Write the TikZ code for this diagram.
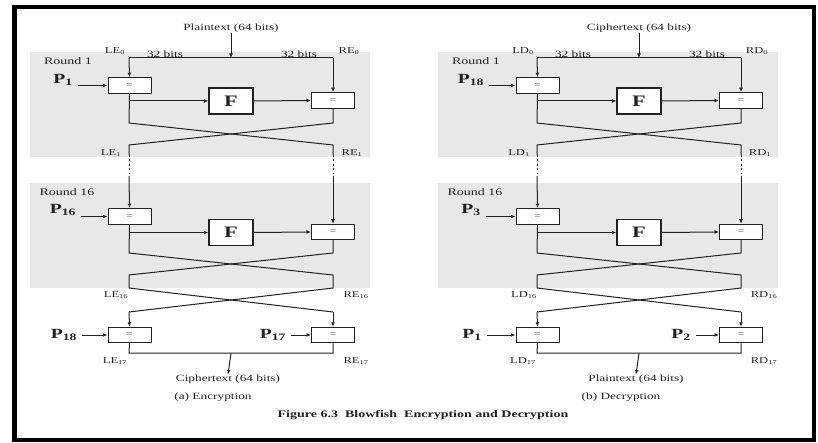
\documentclass[tikz,border=0pt]{standalone}
\usepackage{fontspec}
\setmainfont{Liberation Serif}[FakeStretch=1.4]
\usetikzlibrary{arrows.meta}

\definecolor{roundgray}{HTML}{E8E8E8}
\definecolor{ink}{HTML}{222222}

\tikzset{
  wire/.style={draw=ink, line width=1pt},
  flow/.style={wire, -{Latex[length=4.5pt,width=3.8pt]}},
  dots/.style={wire, dash pattern=on 1.8pt off 2.6pt},
  xorbox/.style={draw=ink, line width=1pt, fill=white, minimum width=43pt,
    minimum height=15.5pt, inner sep=0pt, font=\fontsize{8}{8}\selectfont, text=ink},
  fnbox/.style={draw=ink, line width=1.1pt, fill=white, minimum width=44pt,
    minimum height=26pt, inner sep=0pt, font=\bfseries\fontsize{16}{16}\selectfont, text=ink},
  lbl/.style={inner sep=0pt, font=\fontsize{9}{9}\selectfont, text=ink},
  small/.style={inner sep=0pt, font=\fontsize{9.5}{10}\selectfont, text=ink},
  rlbl/.style={inner sep=0pt, font=\fontsize{10}{10}\selectfont, text=ink},
  pkey/.style={inner sep=0pt, font=\bfseries\fontsize{14}{14}\selectfont, text=ink},
  roundbg/.style={fill=roundgray, draw=none},
}

% One Feistel network: #1 name prefix, #2 input text, #3 letter (E or D),
% #4 key of round 1, #5 key of round 16, #6 left output key, #7 right output key,
% #8 output text, #9 sub-caption
\newcommand\feistelnet[9]{%
  % shaded rounds
  \fill[roundbg] (30,52) rectangle (370,157);
  \fill[roundbg] (30,183) rectangle (370,288);
  % input and the 32-bit halves
  \node[small] (#1in) at (231,28) {#2};
  \coordinate (#1top) at (231,58);
  \coordinate (#1lt) at (129,58);
  \coordinate (#1rt) at (333,58);
  \draw[flow] (#1in.south) -- (#1top);
  \draw[wire] (#1lt) -- (#1rt);
  \node[lbl] (#1l0) at (115,51) {L#3\textsubscript{0}};
  \node[small] (#1b1) at (165,54) {32 bits};
  \node[small] (#1b2) at (299,54) {32 bits};
  \node[lbl] (#1r0) at (349,51) {R#3\textsubscript{0}};
  % round 1
  \node[rlbl] (#1rd1) at (68,61) {Round 1};
  \node[pkey] (#1p1) at (63,80) {P\textsubscript{#4}};
  \node[xorbox] (#1x1) at (129.5,85.5) {=};
  \node[fnbox] (#1f1) at (231,101) {F};
  \node[xorbox] (#1y1) at (333,100.5) {=};
  \draw[flow] (#1lt) -- (#1x1.north);
  \draw[flow] (#1rt) -- (#1y1.north);
  \draw[flow] ([xshift=5pt]#1p1.east |- #1x1.west) -- (#1x1.west);
  \draw[flow] (#1x1.south |- #1f1.west) -- (#1f1.west);
  \draw[flow] (#1f1.east) -- (#1y1.west);
  \coordinate (#1a1) at (129,123);
  \coordinate (#1b1c) at (333,123);
  \coordinate (#1c1) at (129,145);
  \coordinate (#1d1) at (333,145);
  \coordinate (#1e1) at (129,155);
  \coordinate (#1g1) at (333,155);
  \coordinate (#1h1) at (129,176);
  \coordinate (#1k1) at (333,176);
  \draw[wire] (#1x1.south) -- (#1a1) -- (#1d1) -- (#1g1);
  \draw[wire] (#1y1.south) -- (#1b1c) -- (#1c1) -- (#1e1);
  \draw[dots] (#1e1) -- (#1h1);
  \draw[dots] (#1g1) -- (#1k1);
  \node[lbl] (#1l1) at (111,153) {L#3\textsubscript{1}};
  \node[lbl] (#1r1) at (352,153) {R#3\textsubscript{1}};
  % round 16
  \node[rlbl] (#1rd16) at (67,192) {Round 16};
  \node[pkey] (#1p16) at (63,210) {P\textsubscript{#5}};
  \node[xorbox] (#1x16) at (129.5,216.5) {=};
  \node[fnbox] (#1f16) at (231,232.5) {F};
  \node[xorbox] (#1y16) at (333,232) {=};
  \draw[flow] (#1h1) -- (#1x16.north);
  \draw[flow] (#1k1) -- (#1y16.north);
  \draw[flow] ([xshift=5pt]#1p16.east |- #1x16.west) -- (#1x16.west);
  \draw[flow] (#1x16.south |- #1f16.west) -- (#1f16.west);
  \draw[flow] (#1f16.east) -- (#1y16.west);
  \coordinate (#1a16) at (129,253);
  \coordinate (#1b16) at (333,253);
  \coordinate (#1c16) at (129,275);
  \coordinate (#1d16) at (333,275);
  \coordinate (#1e16) at (129,288);
  \coordinate (#1g16) at (333,288);
  \coordinate (#1h16) at (129,312);
  \coordinate (#1k16) at (333,312);
  \draw[wire] (#1x16.south) -- (#1a16) -- (#1d16) -- (#1g16) -- (#1h16);
  \draw[wire] (#1y16.south) -- (#1b16) -- (#1c16) -- (#1e16) -- (#1k16);
  \node[lbl] (#1l16) at (116,295) {L#3\textsubscript{16}};
  \node[lbl] (#1r16) at (356,295) {R#3\textsubscript{16}};
  % output whitening
  \node[pkey] (#1p18) at (64,335) {P\textsubscript{#6}};
  \node[pkey] (#1p17) at (273,335) {P\textsubscript{#7}};
  \node[xorbox] (#1x17) at (129.5,335) {=};
  \node[xorbox] (#1y17) at (333,335) {=};
  \draw[flow] (#1h16) -- (#1x17.north);
  \draw[flow] (#1k16) -- (#1y17.north);
  \draw[flow] ([xshift=5pt]#1p18.east |- #1x17.west) -- (#1x17.west);
  \draw[flow] ([xshift=5pt]#1p17.east |- #1y17.west) -- (#1y17.west);
  \coordinate (#1lo) at (129,353);
  \coordinate (#1ro) at (333,353);
  \coordinate (#1mo) at (231,353);
  \draw[wire] (#1x17.south) -- (#1lo) -- (#1ro) -- (#1y17.south);
  \node[lbl] (#1l17) at (115,361) {L#3\textsubscript{17}};
  \node[lbl] (#1r17) at (356,361) {R#3\textsubscript{17}};
  \node[small] (#1out) at (228,379) {#8};
  \draw[flow] (#1mo) -- (#1out.north);
  \node[small] (#1cap) at (213,397) {#9};
}

\begin{document}
\begin{tikzpicture}[x=1pt, y=-1pt]
  \useasboundingbox (0,0) rectangle (818,443);
  \fill[white] (0,0) rectangle (818,443);
  % outer frame
  \draw[line width=4.5pt, draw=black] (14.5,7.2) rectangle (814,440);

  \feistelnet{enc}{Plaintext (64 bits)}{E}{1}{16}{18}{17}{Ciphertext (64 bits)}{(a) Encryption}
  \begin{scope}[xshift=408pt]
    \feistelnet{dec}{Ciphertext (64 bits)}{D}{18}{3}{1}{2}{Plaintext (64 bits)}{(b) Decryption}
  \end{scope}

  \node[inner sep=0pt, font=\bfseries\fontsize{10}{10}\selectfont, text=ink] (figcap) at (423,415)
    {Figure 6.3\ \ Blowfish\ \ Encryption and Decryption};
\end{tikzpicture}
\end{document}
